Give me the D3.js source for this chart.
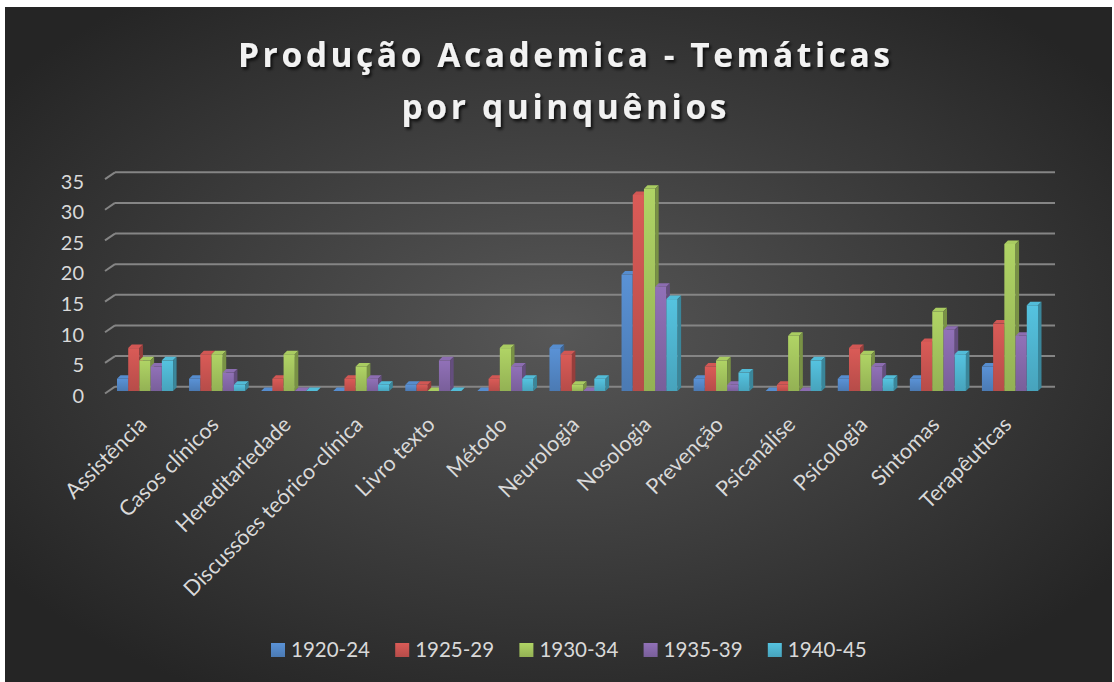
<!DOCTYPE html>
<html>
<head>
<meta charset="utf-8">
<script src="https://cdn.jsdelivr.net/npm/d3@7"></script>
<style>
  body { margin: 0; background: #ffffff; }
  svg { display: block; }
  text { font-family: Lato, "Open Sans", sans-serif; }
</style>
</head>
<body>
<svg id="chart"></svg>
<script>
// page / plot geometry
var width = 1114;
var height = 682;
var panel = {x: 5, y: 7, w: 1107, h: 675};
var depth = {dx: 3.5, dy: 3.5};

// chart data
var categories = ["Assistência", "Casos clínicos", "Hereditariedade", "Discussões teórico-clínica",
    "Livro texto", "Método", "Neurologia", "Nosologia", "Prevenção", "Psicanálise",
    "Psicologia", "Sintomas", "Terapêuticas"];
var seriesNames = ["1920-24", "1925-29", "1930-34", "1935-39", "1940-45"];
var v1920 = [2, 2, 0, 0, 1, 0, 7, 19, 2, 0, 2, 2, 4];
var v1925 = [7, 6, 2, 2, 1, 2, 6, 32, 4, 1, 7, 8, 11];
var v1930 = [5, 6, 6, 4, 0, 7, 1, 33, 5, 9, 6, 13, 24];
var v1935 = [4, 3, 0, 2, 5, 4, 0, 17, 1, 0, 4, 10, 9];
var v1940 = [5, 1, 0, 1, 0, 2, 2, 15, 3, 5, 2, 6, 14];
var yTicks = [0, 5, 10, 15, 20, 25, 30, 35];
var colors = ["#4F81BD", "#C0504D", "#9BBB59", "#8064A2", "#4BACC6"];

var seriesValues = [v1920, v1925, v1930, v1935, v1940];

var svg = d3.select("#chart")
    .attr("width", width)
    .attr("height", height);

var defs = svg.append("defs");

// dark radial background like the office "dark" style
var bg = defs.append("radialGradient")
    .attr("id", "bg")
    .attr("cx", "50%").attr("cy", "48%").attr("r", "62%");
bg.append("stop").attr("offset", "0%").attr("stop-color", "#575757");
bg.append("stop").attr("offset", "100%").attr("stop-color", "#252525");

var shadow = defs.append("filter")
    .attr("id", "shadow")
    .attr("x", "-10%").attr("y", "-30%").attr("width", "120%").attr("height", "160%");
shadow.append("feDropShadow")
    .attr("dx", 2).attr("dy", 2.5)
    .attr("stdDeviation", 1.6)
    .attr("flood-color", "#000")
    .attr("flood-opacity", 0.75);

// one vertical gradient per series for the bar fronts
colors.forEach(function(c, i) {
    var g = defs.append("linearGradient")
        .attr("id", "grad" + i)
        .attr("x1", 0).attr("y1", 0).attr("x2", 0).attr("y2", 1);
    g.append("stop").attr("offset", "0%").attr("stop-color", d3.color(c).brighter(0.35));
    g.append("stop").attr("offset", "100%").attr("stop-color", d3.color(c).darker(0.15));
});

svg.append("rect")
    .attr("x", panel.x)
    .attr("y", panel.y)
    .attr("width", panel.w)
    .attr("height", panel.h)
    .style("fill", "url(#bg)");

// title
var title = svg.append("g").attr("filter", "url(#shadow)");
title.append("text")
    .attr("x", 564)
    .attr("y", 67)
    .attr("text-anchor", "middle")
    .attr("textLength", 652)
    .attr("lengthAdjust", "spacing")
    .style("font-family", "'Open Sans', sans-serif")
    .style("font-size", "33.5px")
    .style("font-weight", "bold")
    .style("fill", "#f2f2f2")
    .text("Produção Academica - Temáticas");
title.append("text")
    .attr("x", 564)
    .attr("y", 119)
    .attr("text-anchor", "middle")
    .attr("textLength", 325)
    .attr("lengthAdjust", "spacing")
    .style("font-family", "'Open Sans', sans-serif")
    .style("font-size", "33.5px")
    .style("font-weight", "bold")
    .style("fill", "#f2f2f2")
    .text("por quinquênios");

// scales
var x0 = d3.scaleBand()
    .domain(categories)
    .range([109, 1046])
    .paddingInner(0.222)
    .paddingOuter(0.111);

var x1 = d3.scaleBand()
    .domain(seriesNames)
    .range([0, x0.bandwidth()]);

var y = d3.scaleLinear()
    .domain([0, 35])
    .range([391, 176.6]);

var wallShift = 4.3;

// gridlines on the back wall, with the little slant on the side wall
var grid = svg.append("g");
yTicks.forEach(function(t) {
    grid.append("line")
        .attr("x1", 115)
        .attr("x2", 1055)
        .attr("y1", y(t) - wallShift)
        .attr("y2", y(t) - wallShift)
        .style("stroke", "#858585")
        .style("stroke-width", 2);
    grid.append("line")
        .attr("x1", 105)
        .attr("x2", 115)
        .attr("y1", y(t) + 2.5)
        .attr("y2", y(t) - wallShift)
        .style("stroke", "#858585")
        .style("stroke-width", 2);
});

svg.append("g")
    .selectAll("text")
    .data(yTicks)
    .enter()
    .append("text")
    .attr("x", 84)
    .attr("y", function(d) { return y(d) + 5; })
    .attr("dy", "0.35em")
    .attr("text-anchor", "end")
    .style("font-size", "20px")
    .style("fill", "#d9d9d9")
    .text(function(d) { return d; });

// bars: front, top and right side, drawn left to right
var bars = svg.append("g");
categories.forEach(function(cat, ci) {
    seriesNames.forEach(function(s, si) {
        var v = seriesValues[si][ci];
        var bx = x0(cat) + x1(s);
        var bw = x1.bandwidth();
        var top = y(v);
        var base = y(0);
        var c = d3.color(colors[si]);

        bars.append("rect")
            .attr("x", bx)
            .attr("y", top)
            .attr("width", bw)
            .attr("height", base - top)
            .style("fill", "url(#grad" + si + ")");

        bars.append("polygon")
            .attr("points", [
                [bx, top], [bx + depth.dx, top - depth.dy],
                [bx + bw + depth.dx, top - depth.dy], [bx + bw, top]
            ].join(" "))
            .style("fill", c.brighter(0.25));

        bars.append("polygon")
            .attr("points", [
                [bx + bw, top], [bx + bw + depth.dx, top - depth.dy],
                [bx + bw + depth.dx, base - depth.dy], [bx + bw, base]
            ].join(" "))
            .style("fill", c.darker(0.7));
    });
});

// rotated category labels
svg.append("g")
    .selectAll("text")
    .data(categories)
    .enter()
    .append("text")
    .attr("transform", function(d) {
        return "translate(" + (x0(d) + x0.bandwidth() / 2 + 3) + ",426) rotate(-45)";
    })
    .attr("text-anchor", "end")
    .style("font-size", "21.5px")
    .style("fill", "#d9d9d9")
    .text(function(d) { return d; });

// legend
var legend = svg.append("g");
seriesNames.forEach(function(s, i) {
    var lx = 271 + i * 124.2;
    legend.append("rect")
        .attr("x", lx)
        .attr("y", 643)
        .attr("width", 14)
        .attr("height", 14)
        .style("fill", "url(#grad" + i + ")");
    legend.append("text")
        .attr("x", lx + 20)
        .attr("y", 650)
        .attr("dy", "0.35em")
        .style("font-size", "20.5px")
        .style("fill", "#d9d9d9")
        .text(s);
});
</script>
</body>
</html>
